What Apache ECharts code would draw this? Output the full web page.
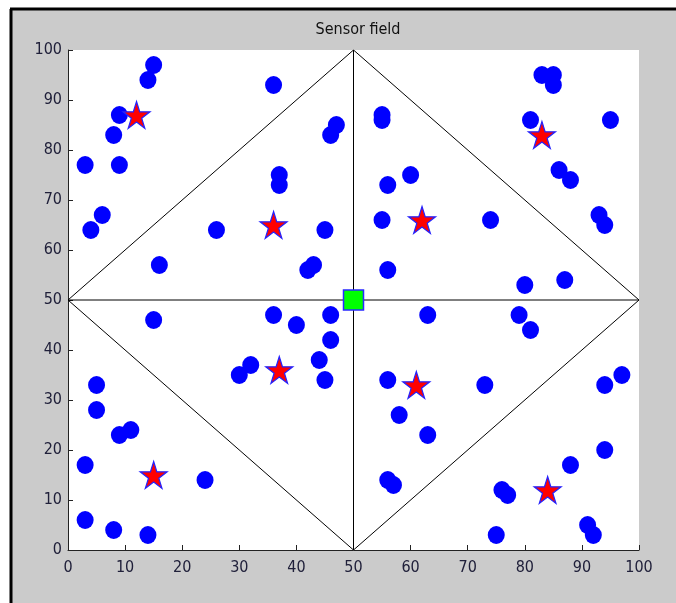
<!DOCTYPE html>
<html>
<head>
<meta charset="utf-8">
<script src="https://cdn.jsdelivr.net/npm/echarts@6/dist/echarts.min.js"></script>
<style>html,body{margin:0;padding:0;background:#fff}#c{width:676px;height:603px}</style>
</head>
<body>
<div id="c"></div>
<script>
// Sensor nodes [x, y]
const sensors = [
  [15,97],[14,94],[36,93],[9,87],[8,83],[47,85],[46,83],[3,77],[9,77],[37,75],[37,73],
  [6,67],[4,64],[26,64],[45,64],[16,57],[42,56],[43,57],
  [83,95],[85,95],[85,93],[55,87],[55,86],[81,86],[95,86],[60,75],[56,73],[86,76],[88,74],
  [55,66],[74,66],[93,67],[94,65],[56,56],[80,53],[87,54],
  [15,46],[36,47],[40,45],[46,47],[46,42],[44,38],[45,34],[32,37],[30,35],
  [5,33],[5,28],[11,24],[9,23],[3,17],[24,14],[3,6],[8,4],[14,3],
  [63,47],[79,47],[81,44],[56,34],[73,33],[94,33],[97,35],[58,27],[63,23],[94,20],[88,17],
  [56,14],[57,13],[76,12],[77,11],[75,3],[91,5],[92,3]
];
// Cluster heads [x, y]
const heads = [[12,87],[36,65],[83,83],[62,66],[37,36],[15,15],[61,33],[84,12]];
// Sink
const sink = [[50,50]];
// Partition lines
const diamond = [[0,50],[50,100],[100,50],[50,0],[0,50]];
const hLine = [[0,50],[100,50]];
const vLine = [[50,0],[50,100]];
const xTicks = [0,10,20,30,40,50,60,70,80,90,100];
const yTicks = [0,10,20,30,40,50,60,70,80,90,100];

const starPath = 'path://M50,0 L61.2,34.5 L97.6,34.5 L68.2,55.9 L79.4,90.5 L50,69.1 L20.6,90.5 L31.8,55.9 L2.4,34.5 L38.8,34.5 Z';
const font = "'DejaVu Sans Condensed','Liberation Sans Narrow','Arial Narrow',sans-serif";

const chart = echarts.init(document.getElementById('c'));
const lineStyle = {color:'#000', width:1};
const axisCommon = {
  type:'value', min:0, max:100, interval:10,
  axisLine:{show:true, onZero:false, lineStyle:{color:'#222', width:1}},
  axisTick:{show:true, inside:true, length:5, lineStyle:{color:'#222'}},
  splitLine:{show:false},
  axisLabel:{color:'#20203a', fontFamily:font, fontSize:16}
};
chart.setOption({
  animation:false,
  backgroundColor:'#ffffff',
  graphic:[
    {type:'rect', z:-100, shape:{x:11, y:9, width:665, height:594}, style:{fill:'#cbcbcb'}},
    {type:'line', z:-99, shape:{x1:11, y1:9, x2:11, y2:603}, style:{stroke:'#000', lineWidth:3}},
    {type:'line', z:-99, shape:{x1:10, y1:9, x2:676, y2:9}, style:{stroke:'#000', lineWidth:3}}
  ],
  title:{text:'Sensor field', left:353, top:17, textAlign:'center',
    textStyle:{fontFamily:font, fontSize:16, fontWeight:'normal', color:'#111'}},
  grid:{left:68, right:37, top:50, bottom:53, show:true, backgroundColor:'#ffffff', borderWidth:0},
  xAxis:Object.assign({}, axisCommon, {axisLabel:Object.assign({}, axisCommon.axisLabel, {margin:10,
    formatter:v=>xTicks.includes(v)?String(v):''})}),
  yAxis:Object.assign({}, axisCommon, {axisLabel:Object.assign({}, axisCommon.axisLabel, {margin:6,
    formatter:v=>yTicks.includes(v)?String(v):''})}),
  series:[
    {type:'line', data:diamond, symbol:'none', lineStyle, z:1, silent:true},
    {type:'line', data:hLine, symbol:'none', lineStyle, z:1, silent:true},
    {type:'line', data:vLine, symbol:'none', lineStyle, z:1, silent:true},
    {type:'scatter', data:sensors, symbol:'circle', symbolSize:[17,18], z:3,
      itemStyle:{color:'#0000ff', opacity:1}},
    {type:'scatter', data:heads, symbol:starPath, symbolSize:27, z:4,
      itemStyle:{color:'#ff0000', borderColor:'#2222ff', borderWidth:1.2, opacity:1}},
    {type:'scatter', data:sink, symbol:'rect', symbolSize:20, z:5,
      itemStyle:{color:'#00ff00', borderColor:'#2a2aff', borderWidth:1.5, opacity:1}}
  ]
});
</script>
</body>
</html>
